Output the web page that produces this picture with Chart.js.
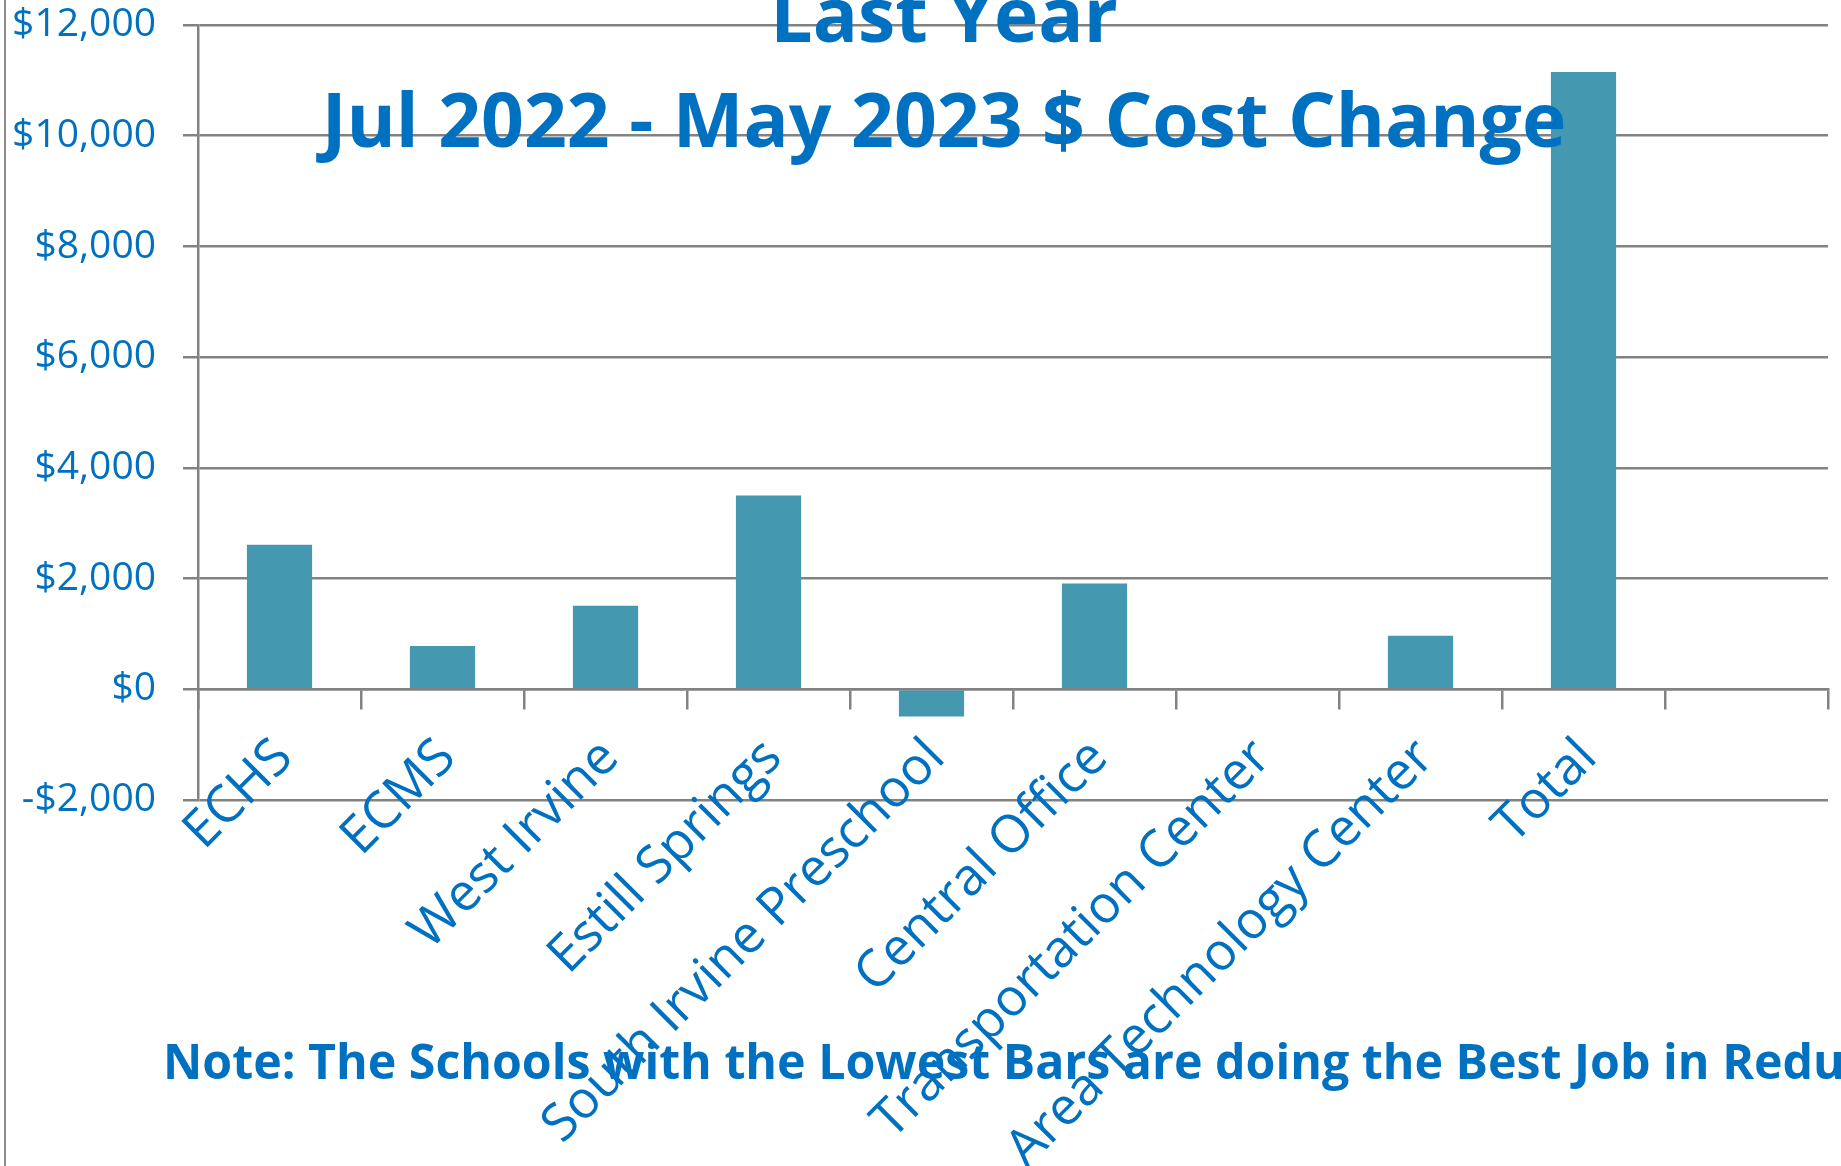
<!DOCTYPE html>
<html>
<head>
<meta charset="utf-8">
<script src="https://cdn.jsdelivr.net/npm/chart.js@4/dist/chart.umd.min.js"></script>
<style>
  body { margin: 0; background: #fff; }
  #wrap { position: relative; width: 1841px; height: 1166px; }
  #edge { position: absolute; left: 4px; top: 0; width: 2px; height: 1166px; background: #8c8c8c; }
</style>
</head>
<body>
<div id="wrap">
  <canvas id="chart"></canvas>
  <div id="edge"></div>
</div>
<script>
const categories = ['ECHS', 'ECMS', 'West Irvine', 'Estill Springs', 'South Irvine Preschool',
  'Central Office', 'Transportation Center', 'Area Technology Center', 'Total', ''];
const costChange = [2610, 780, 1510, 3500, -490, 1910, 0, 965, 11150, null];
const yMin = -2000;
const yMax = 12000;
const yStep = 2000;
const titleLines = ['Last Year', 'Jul 2022 - May 2023 $ Cost Change'];
const noteText = 'Note: The Schools with the Lowest Bars are doing the Best Job in Reducing Costs';

const blue = '#0070C0';
const gridGrey = '#828282';

const money = v => (v < 0 ? '-' : '') + '$' + Math.abs(v).toLocaleString('en-US');

// title and note sit on top of the plot, like the Excel overlay title
const overlayText = {
  id: 'overlayText',
  afterDraw(chart) {
    const ctx = chart.ctx;
    ctx.save();
    ctx.fillStyle = blue;
    ctx.textBaseline = 'alphabetic';
    ctx.textAlign = 'center';
    ctx.font = 'bold 75px "Open Sans"';
    ctx.fillText(titleLines[0], 944, 42);
    ctx.fillText(titleLines[1], 944, 147);
    ctx.textAlign = 'left';
    ctx.font = 'bold 48.3px "Open Sans"';
    ctx.fillText(noteText, 163, 1079);
    ctx.restore();
  }
};

new Chart(document.getElementById('chart'), {
  type: 'bar',
  data: {
    labels: categories,
    datasets: [{
      data: costChange,
      backgroundColor: '#4498B0',
      borderWidth: 0,
      categoryPercentage: 0.4,
      barPercentage: 1
    }]
  },
  options: {
    responsive: true,
    maintainAspectRatio: false,
    animation: false,
    layout: { padding: { top: 25, right: 13, bottom: 366, left: 0 } },
    plugins: {
      legend: { display: false },
      tooltip: { enabled: false }
    },
    scales: {
      x: {
        position: { y: 0 },
        offset: true,
        grid: {
          offset: true,
          drawOnChartArea: false,
          drawTicks: true,
          tickLength: 19,
          color: gridGrey,
          lineWidth: 2.5
        },
        border: { display: true, color: gridGrey, width: 2.5 },
        ticks: {
          autoSkip: false,
          minRotation: 45,
          maxRotation: 45,
          padding: 19,
          labelOffset: 5,
          color: blue,
          font: { family: 'Open Sans', size: 52 }
        }
      },
      y: {
        min: yMin,
        max: yMax,
        grid: {
          color: gridGrey,
          lineWidth: 2.5,
          tickLength: 15
        },
        border: { display: true, color: gridGrey, width: 2.5 },
        ticks: {
          stepSize: yStep,
          padding: 27,
          color: blue,
          font: { family: 'Open Sans', size: 39 },
          callback: v => money(v)
        },
        afterFit(scale) {
          scale.width = 198;
          // don't let the tick padding push the plot down
          scale.paddingTop = 23;
          scale.paddingBottom = 23;
        }
      }
    }
  },
  plugins: [overlayText]
});
</script>
</body>
</html>
